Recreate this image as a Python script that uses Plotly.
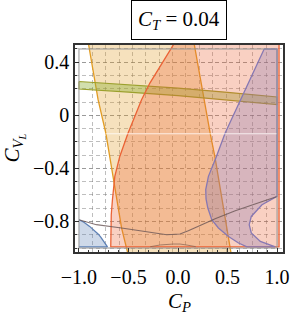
import numpy as np
import plotly.graph_objects as go

# ---------------- data ----------------
domain_x = [-1.0, 1.0]
domain_y = [-1.0, 0.5]

blue_x = [-1.0, -0.95, -0.892, -0.845, -0.807, -0.78, -0.757, -0.733, -0.712]
blue_y = [-0.787, -0.806, -0.837, -0.866, -0.894, -0.918, -0.943, -0.968, -0.992]

tan_left_x = [-0.909, -0.902, -0.807, -0.729, -0.672, -0.621, -0.570, -0.520, -0.50]
tan_left_y = [0.56, 0.53, 0.118, -0.133, -0.385, -0.636, -0.849, -1.0, -1.06]
tan_right_x = [0.158, 0.165, 0.266, 0.324, 0.375, 0.408, 0.449, 0.493, 0.527, 0.54]
tan_right_y = [0.56, 0.53, 0.118, -0.133, -0.322, -0.460, -0.636, -0.849, -1.0, -1.06]

band_x = [-1.0, -0.5, 0.0, 0.5, 1.0]
band_top = [0.255, 0.232, 0.205, 0.173, 0.138]
band_bot = [0.198, 0.175, 0.148, 0.116, 0.081]

red_left_x = [-0.023, -0.048, -0.166, -0.284, -0.368, -0.436, -0.504, -0.588, -0.638, -0.662, -0.674, -0.679]
red_left_y = [0.56, 0.53, 0.385, 0.243, 0.118, -0.003, -0.133, -0.310, -0.460, -0.636, -0.749, -0.992]
red_right = 1.02

purple_left_x = [0.870, 0.611, 0.476, 0.382, 0.307, 0.280, 0.283, 0.301, 0.341, 0.408, 0.510, 0.611, 0.696]
purple_left_y = [0.5, 0.080, -0.133, -0.322, -0.460, -0.560, -0.630, -0.699, -0.787, -0.849, -0.913, -0.962, -0.992]
purple_lobe_x = [0.983, 0.831, 0.740, 0.719, 0.740, 0.848, 1.0]
purple_lobe_y = [-0.992, -0.950, -0.887, -0.824, -0.762, -0.674, -0.611]

brown_x = [-1.0, -0.824, -0.570, -0.317, -0.114, 0.020, 0.104, 0.240, 0.375, 0.578, 0.814, 1.0]
brown_y = [-0.787, -0.824, -0.849, -0.879, -0.900, -0.894, -0.870, -0.824, -0.779, -0.719, -0.661, -0.611]

hump_x = [-0.28, -0.18, -0.05, 0.02, 0.10, 0.18]
hump_y = [-0.99, -0.977, -0.970, -0.970, -0.979, -0.99]

seam_x = [-0.73, 1.0]
seam_y = [-0.139, -0.139]

x_ticks = [-1.0, -0.5, 0.0, 0.5, 1.0]
x_ticktext = ["\u22121.0", "\u22120.5", "0.0", "0.5", "1.0"]
y_ticks = [-0.8, -0.4, 0.0, 0.4]
y_ticktext = ["\u22120.8", "\u22120.4", "0", "0.4"]
x_grid = [-1.0 + 0.135 * k for k in range(1, 15)]

# ---------------- styling ----------------
BLUE = (94, 129, 181)
ORANGE = (225, 156, 36)
GREEN = (143, 176, 50)
RED = (235, 98, 53)
PURPLE = (135, 120, 179)
SERIF = "Liberation Serif"


def rgba(c, a):
    return f"rgba({c[0]},{c[1]},{c[2]},{a})"


fig = go.Figure()


def region(xs, ys, fill, edge, width=1.3):
    fig.add_trace(go.Scatter(x=xs, y=ys, mode="lines", fill="toself",
                             fillcolor=fill, line=dict(color=edge, width=width),
                             hoverinfo="skip"))


# blue
region(blue_x + [domain_x[0]], blue_y + [blue_y[-1]], rgba(BLUE, 0.3), rgba(BLUE, 1))
# tan (orange)
region(tan_left_x + tan_right_x[::-1], tan_left_y + tan_right_y[::-1],
       rgba(ORANGE, 0.3), rgba(ORANGE, 1))
# olive band
region(band_x + band_x[::-1] + [band_x[0]], band_top + band_bot[::-1] + [band_top[0]],
       rgba(GREEN, 0.4), "rgb(155,160,45)", 1.2)
# red
region(red_left_x + [red_right, red_right], red_left_y + [red_left_y[-1], red_left_y[0]],
       rgba(RED, 0.3), rgba(RED, 1))
# purple
region(purple_left_x + purple_lobe_x + [purple_lobe_x[-1], purple_left_x[0]],
       purple_left_y + purple_lobe_y + [purple_left_y[0], purple_left_y[0]],
       rgba(PURPLE, 0.3), rgba(PURPLE, 1))

# brown boundary curves
fig.add_trace(go.Scatter(x=brown_x, y=brown_y, mode="lines",
                         line=dict(color="rgba(105,85,85,0.8)", width=1.1), hoverinfo="skip"))
fig.add_trace(go.Scatter(x=hump_x, y=hump_y, mode="lines",
                         line=dict(color="rgba(130,95,80,0.7)", width=1.0), hoverinfo="skip"))
# white seam
fig.add_trace(go.Scatter(x=seam_x, y=seam_y, mode="lines",
                         line=dict(color="rgba(255,255,255,0.75)", width=1), hoverinfo="skip"))
# inner gray frame (plot domain)
fig.add_trace(go.Scatter(x=[domain_x[0], domain_x[1], domain_x[1], domain_x[0], domain_x[0]],
                         y=[domain_y[0], domain_y[0], domain_y[1], domain_y[1], domain_y[0]],
                         mode="lines", line=dict(color="rgb(150,150,150)", width=1),
                         hoverinfo="skip"))
# empty trace to anchor grid axis
fig.add_trace(go.Scatter(x=[], y=[], xaxis="x2", yaxis="y", hoverinfo="skip"))

GRID = "rgba(110,110,110,0.45)"
DASH = "4px,3px"

fig.update_layout(
    template="none",
    width=291, height=314,
    margin=dict(l=75, r=8, t=45, b=62, autoexpand=False),
    plot_bgcolor="white", paper_bgcolor="white",
    showlegend=False,
    font=dict(family=SERIF, size=20, color="black"),
    xaxis=dict(range=[-1.04, 1.06], tickvals=x_ticks, ticktext=x_ticktext,
               ticks="inside", ticklen=4, tickcolor="#333", tickwidth=1,
               showgrid=False, zeroline=False, automargin=False,
               showline=True, mirror=True, linecolor="#333", linewidth=1.5,
               ticklabelstandoff=6,
               minor=dict(dtick=0.1, tick0=0, ticks="inside", ticklen=2,
                          tickcolor="#333", showgrid=False),
               tickfont=dict(family=SERIF, size=20)),
    xaxis2=dict(range=[-1.04, 1.06], overlaying="x", anchor="y", side="bottom",
                tickvals=x_grid, showticklabels=False, ticks="", automargin=False,
                showgrid=True, gridcolor=GRID, griddash=DASH, gridwidth=1,
                zeroline=False, showline=False),
    yaxis=dict(range=[-1.03, 0.53], tickvals=y_ticks, ticktext=y_ticktext,
               ticks="inside", ticklen=4, tickcolor="#333", tickwidth=1,
               showgrid=True, gridcolor=GRID, griddash=DASH, gridwidth=1,
               zeroline=False, automargin=False,
               showline=True, mirror=True, linecolor="#333", linewidth=1.5,
               minor=dict(dtick=0.1, tick0=0, ticks="inside", ticklen=2,
                          tickcolor="#333", showgrid=True, gridcolor=GRID,
                          griddash=DASH, gridwidth=1),
               tickfont=dict(family=SERIF, size=20)),
    annotations=[
        dict(text="<i>C</i><sub><i>T</i></sub> = 0.04", xref="paper", yref="paper",
             x=0.5, y=1.123, xanchor="center", yanchor="middle", showarrow=False,
             bordercolor="black", borderwidth=1, borderpad=6,
             font=dict(family=SERIF, size=21)),
        dict(text="<i>C</i><sub><i>P</i></sub>", xref="paper", yref="paper",
             x=0.5, y=-0.24, xanchor="center", yanchor="middle", showarrow=False,
             font=dict(family=SERIF, size=21)),
        dict(text="<i>C</i><sub><i>V</i><sub><i>L</i></sub></sub>", xref="paper", yref="paper",
             x=-0.298, y=0.5, xanchor="center", yanchor="middle", showarrow=False,
             textangle=-90, font=dict(family=SERIF, size=21)),
    ],
)

fig.write_html("out.html", config={"displayModeBar": False},
               post_script="document.body.style.margin='0px';document.body.style.overflow='hidden';")
